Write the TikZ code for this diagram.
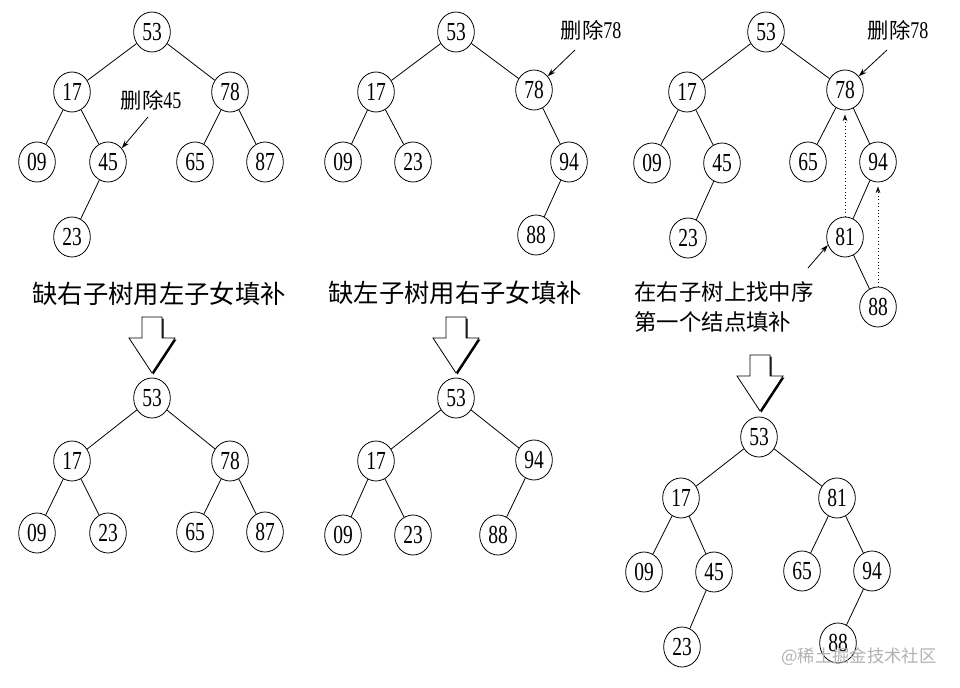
\documentclass[tikz,border=0pt]{standalone}
\usepackage{fontspec}
\usetikzlibrary{shapes.geometric,arrows.meta}
\newfontfamily\numfont[FakeStretch=0.75]{Liberation Serif}
\newfontfamily\cjk{Noto Sans CJK SC}
\begin{document}
\begin{tikzpicture}[x=0.75pt,y=-0.75pt,line width=0.6pt,
  tn/.style={draw,ellipse,minimum width=27.5pt,minimum height=30pt,inner sep=0pt,font=\numfont\fontsize{19.5}{19.5}\selectfont},
  edge/.style={line width=0.6pt},
  ptr/.style={-{Stealth[length=6pt,width=4pt]},line width=0.6pt},
  dptr/.style={-{Stealth[length=5pt,width=3.5pt,open]},dotted,line width=0.6pt,shorten >=3pt},
  bigtxt/.style={font=\cjk\fontsize{19}{19}\selectfont,inner sep=0pt},
  midtxt/.style={font=\cjk\fontsize{16.8}{22}\selectfont,inner sep=0pt,align=left},
  lbl/.style={inner sep=0pt},
  hollow arrow/.pic={
    \fill[black] (-8.5,1.5) -- (11.5,1.5) -- (11.5,22.5) -- (24.5,22.5) -- (1.5,57.5) -- (-21.5,22.5) -- (-8.5,22.5) -- cycle;
    \draw[fill=white,line width=0.6pt] (-10,0) -- (10,0) -- (10,21) -- (23,21) -- (0,56) -- (-23,21) -- (-10,21) -- cycle;
  }]
\useasboundingbox (0,0) rectangle (960,688);
\fill[white] (0,0) rectangle (960,688);

% ---------- panel 1 top ----------
\foreach \n/\x/\y in {53/152/32,17/72/92,78/230/92,09/37/162,45/108/162,65/195/162,87/265/162,23/72/237}
  \node[tn] (a-\n) at (\x,\y) {\n};
\foreach \p/\c in {53/17,53/78,17/09,17/45,45/23,78/65,78/87}
  \draw[edge] (a-\p) -- (a-\c);
\node[lbl] (al) at (151,100) {\cjk\fontsize{16}{16}\selectfont 删除\numfont\fontsize{18}{18}\selectfont 45};
\coordinate (as) at (148,117);
\draw[ptr] (as) -- (a-45.45);

% ---------- panel 2 top ----------
\foreach \n/\x/\y in {53/456/32,17/376/92,78/534/90,09/343/162,23/413/162,94/569/162,88/536/235}
  \node[tn] (b-\n) at (\x,\y) {\n};
\foreach \p/\c in {53/17,53/78,17/09,17/23,78/94,94/88}
  \draw[edge] (b-\p) -- (b-\c);
\node[lbl] (bl) at (591,30) {\cjk\fontsize{16}{16}\selectfont 删除\numfont\fontsize{18}{18}\selectfont 78};
\coordinate (bs) at (575,50);
\draw[ptr] (bs) -- (b-78.45);

% ---------- panel 3 top ----------
\foreach \n/\x/\y in {53/766/32,17/687/92,78/845/90,09/652/163,45/722/163,65/808/162,94/878/162,23/688/238,81/845/237,88/878/307}
  \node[tn] (c-\n) at (\x,\y) {\n};
\foreach \p/\c in {53/17,53/78,17/09,17/45,45/23,78/65,78/94,94/81,81/88}
  \draw[edge] (c-\p) -- (c-\c);
\node[lbl] (cl) at (898,30) {\cjk\fontsize{16}{16}\selectfont 删除\numfont\fontsize{18}{18}\selectfont 78};
\coordinate (cs) at (887,50);
\draw[ptr] (cs) -- (c-78.45);
\coordinate (cs2) at (808,268);
\draw[ptr] (cs2) -- (c-81.205);
\draw[dptr] (c-81.north) -- (c-78.south);
\draw[dptr] (c-88.north) -- (c-94.south);

% ---------- captions ----------
\node[bigtxt] (t1) at (159,294) {缺右子树用左子女填补};
\node[bigtxt] (t2) at (455,293) {缺左子树用右子女填补};
\node[midtxt,anchor=west] (t3) at (634,307) {在右子树上找中序\\第一个结点填补};

% ---------- hollow arrows ----------
\pic at (152,317) {hollow arrow};
\pic at (456,317) {hollow arrow};
\pic at (760,355) {hollow arrow};

% ---------- panel 1 bottom ----------
\foreach \n/\x/\y in {53/152/398,17/72/461,78/230/461,09/37/533,23/108/533,65/195/532,87/265/532}
  \node[tn] (d-\n) at (\x,\y) {\n};
\foreach \p/\c in {53/17,53/78,17/09,17/23,78/65,78/87}
  \draw[edge] (d-\p) -- (d-\c);

% ---------- panel 2 bottom ----------
\foreach \n/\x/\y in {53/456/398,17/376/461,94/534/460,09/343/535,23/413/535,88/498/535}
  \node[tn] (e-\n) at (\x,\y) {\n};
\foreach \p/\c in {53/17,53/94,17/09,17/23,94/88}
  \draw[edge] (e-\p) -- (e-\c);

% ---------- panel 3 bottom ----------
\foreach \n/\x/\y in {53/759/437,17/681/498,81/837/498,09/644/572,45/714/572,65/802/571,94/872/571,23/682/647,88/838/643}
  \node[tn] (f-\n) at (\x,\y) {\n};
\foreach \p/\c in {53/17,53/81,17/09,17/45,45/23,81/65,81/94,94/88}
  \draw[edge] (f-\p) -- (f-\c);

% ---------- watermark ----------
\node[inner sep=0pt,text=black!30,font=\cjk\fontsize{13}{13}\selectfont] (wm) at (859,657) {@稀土掘金技术社区};
\end{tikzpicture}
\end{document}
